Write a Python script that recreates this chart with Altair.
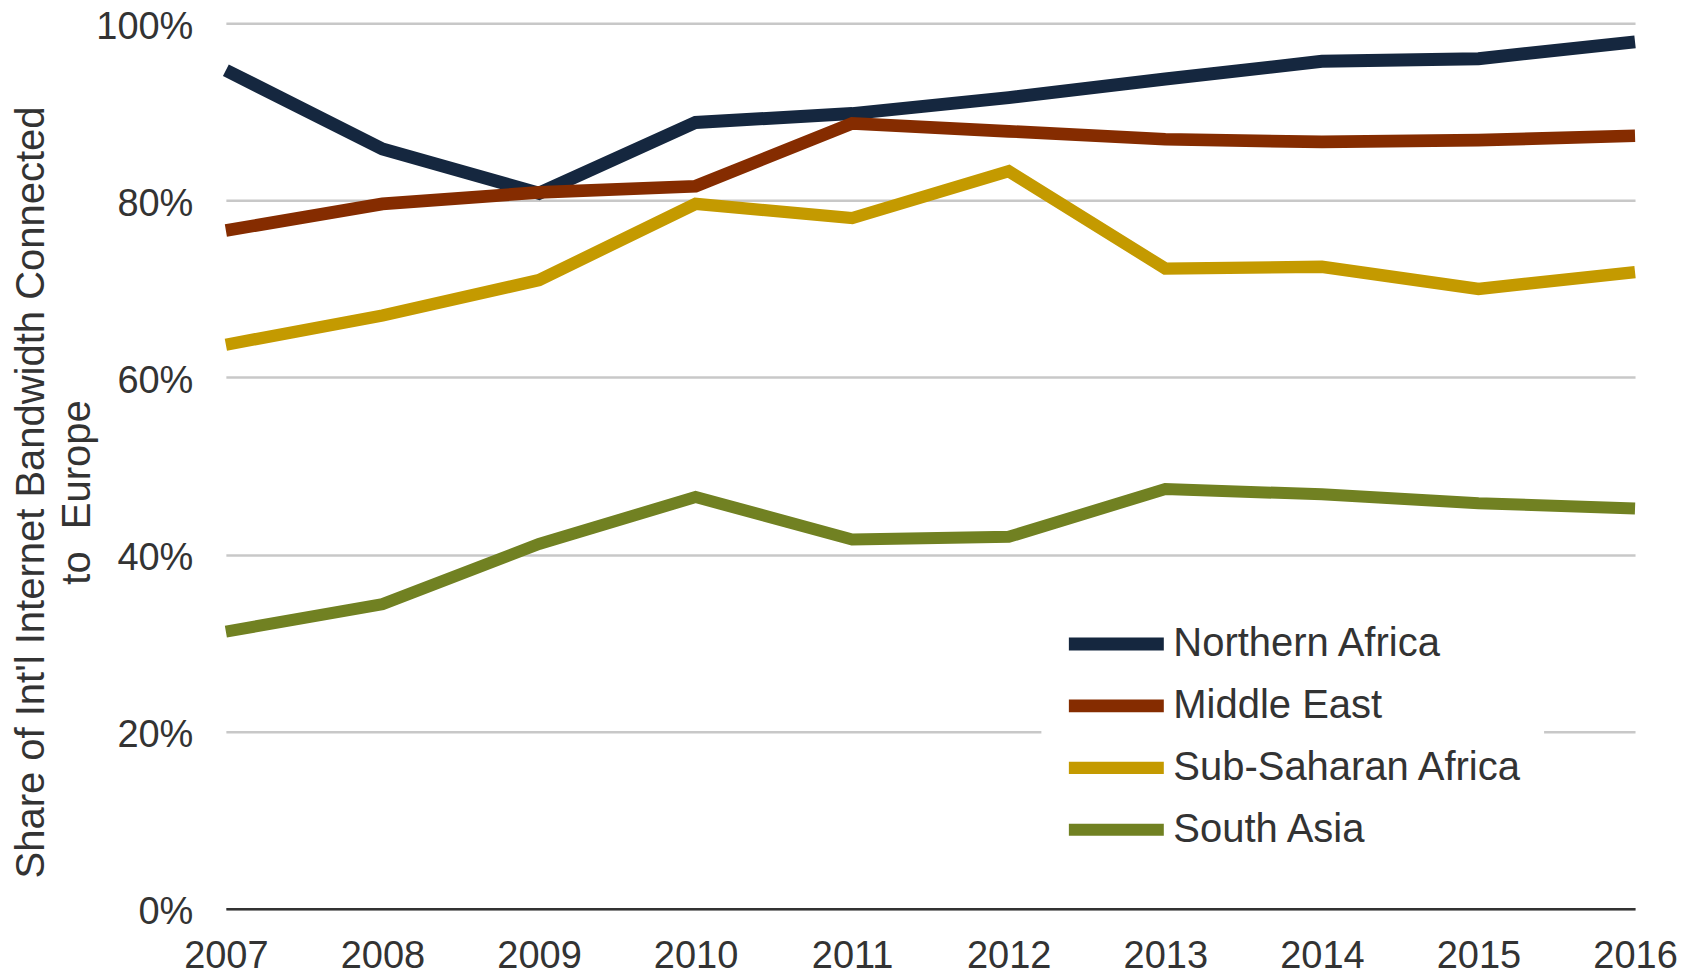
import altair as alt
import pandas as pd

years = [2007, 2008, 2009, 2010, 2011, 2012, 2013, 2014, 2015, 2016]
series_names = ["Northern Africa", "Middle East", "Sub-Saharan Africa", "South Asia"]
northern_africa = [94.7, 85.8, 80.8, 88.8, 89.8, 91.6, 93.7, 95.7, 96.0, 97.9]
middle_east = [76.6, 79.6, 80.9, 81.6, 88.7, 87.8, 86.9, 86.6, 86.8, 87.3]
sub_saharan_africa = [63.7, 67.0, 71.0, 79.6, 78.0, 83.3, 72.3, 72.5, 70.0, 71.9]
south_asia = [31.3, 34.4, 41.2, 46.5, 41.7, 42.0, 47.4, 46.8, 45.8, 45.2]
y_ticks = [0, 20, 40, 60, 80, 100]
colors = ["#15273f", "#852c00", "#c49a00", "#718122"]
widths = [13, 12, 15, 15]

values = [northern_africa, middle_east, sub_saharan_africa, south_asia]
rows = []
for name, vals in zip(series_names, values):
    for yr, v in zip(years, vals):
        rows.append({"year": yr, "share": v, "region": name})
df = pd.DataFrame(rows)

FONT = "Helvetica Neue, Liberation Sans, Arial"
TXT = "#333333"

chart = alt.Chart(df).mark_line(strokeCap="butt", strokeJoin="miter").encode(
    x=alt.X("year:Q",
            scale=alt.Scale(domain=[2007, 2016], nice=False, zero=False),
            axis=alt.Axis(values=years, format="d", title=None, grid=False,
                          ticks=False, labelFlush=False, labelPadding=29,
                          labelFontSize=38, labelFont=FONT, labelColor=TXT,
                          domainColor="#333", domainWidth=2.5)),
    y=alt.Y("share:Q",
            scale=alt.Scale(domain=[0, 100], nice=False),
            axis=alt.Axis(values=y_ticks, labelExpr="datum.value + '%'",
                          domain=False, ticks=False, grid=True,
                          gridColor="#c8c8c8", gridWidth=2.5,
                          labelFontSize=38, labelFont=FONT, labelColor=TXT,
                          labelPadding=33, labelOffset=4,
                          title=["Share of Int'l Internet Bandwidth Connected", "to\u00a0 Europe"],
                          titleFontSize=40, titleFont=FONT, titleFontWeight="normal",
                          titleColor=TXT, titleAngle=270, titleAlign="center",
                          titleBaseline="top", titleX=-214, titleY=469,
                          titleLineHeight=46)),
    color=alt.Color("region:N",
                    scale=alt.Scale(domain=series_names, range=colors),
                    legend=alt.Legend(title=None, orient="none", legendX=816, legendY=580,
                                      fillColor="white", padding=21,
                                      symbolType="stroke", symbolStrokeWidth=15,
                                      symbolSize=9025, clipHeight=40,
                                      labelFontSize=40, labelFont=FONT,
                                      labelColor=TXT, labelOffset=3, rowPadding=22,
                                      labelLimit=600)),
    strokeWidth=alt.StrokeWidth("region:N",
                                scale=alt.Scale(domain=series_names, range=widths),
                                legend=None),
    order=alt.Order("year:Q"),
).properties(
    width=1410, height=886,
    padding={"left": 218, "top": 15, "right": 50, "bottom": 66},
    autosize=alt.AutoSizeParams(type="none"),
).configure_view(stroke=None)

chart.save("out.html", embed_options={"renderer": "svg", "actions": False})
